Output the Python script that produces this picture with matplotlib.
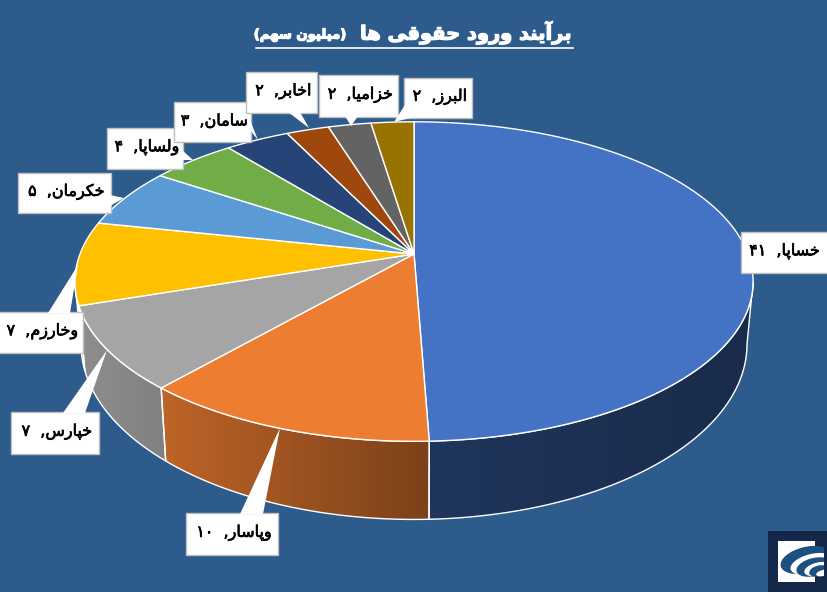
import unicodedata
import numpy as np
import matplotlib
matplotlib.use("Agg")
import matplotlib.pyplot as plt
import matplotlib.patheffects as pe
from matplotlib.patches import Polygon, Rectangle, Ellipse
from matplotlib.colors import to_rgb

names = ["خساپا", "وپاسار", "خپارس", "وخارزم", "خکرمان", "ولساپا", "سامان", "اخابر", "خزامیا", "البرز"]
values = [41, 10, 7, 7, 5, 4, 3, 2, 2, 2]
colors = ["#4472c4", "#ed7d31", "#a5a5a5", "#ffc000", "#5b9bd5", "#70ad47", "#264478", "#9e480e", "#636363", "#997300"]
title_main = "برآیند ورود حقوقی ها"
title_unit = "(میلیون سهم)"

BG = "#2c5b8c"
CX = 414
K = 0.1725
TOP = (254, 155, 334)     # apex y, depth scale, radius
BOTTOM = (314, 170, 328)

# box per label: left, top, right, bottom, then leader base and tip
boxes = [
    (741, 232, 830, 273, None),
    (186, 513, 278, 555, [(240, 514), (263, 514), (280, 428)]),
    (11, 412, 99, 454, [(63, 413), (85, 413), (107, 350)]),
    (-2, 312, 83, 353, [(48, 313), (70, 313), (78, 265)]),
    (18, 173, 111, 213, [(110, 195), (110, 206), (124, 198)]),
    (107, 128, 183, 169, [(182, 150), (182, 160), (193, 160)]),
    (174, 102, 251, 142, [(250, 120), (250, 130), (258, 140)]),
    (246, 72, 317, 113, [(288, 112), (300, 112), (309, 128)]),
    (319, 75, 398, 117, [(345, 116), (358, 116), (351, 126)]),
    (404, 78, 472, 118, [(405, 105), (415, 117), (394, 122)]),
]
# left / right brightness of the rim for each visible slice
rim_shade = {0: (0.47, 0.38), 1: (0.80, 0.52), 2: (0.86, 0.78), 3: (0.85, 0.8)}


def shape(text):
    # matplotlib does no arabic joining, so pick the forms by hand and reverse
    no_next = "اآدذرزو"
    out = []
    for i, ch in enumerate(text):
        if ch == " " or not unicodedata.name(ch).startswith("ARABIC LETTER"):
            out.append({"(": ")", ")": "("}.get(ch, ch))
            continue
        prev_joins = i > 0 and text[i - 1] not in no_next + " ()"
        next_joins = ch not in no_next and i < len(text) - 1 and text[i + 1] not in " ()"
        if prev_joins and next_joins:
            form = " MEDIAL FORM"
        elif prev_joins:
            form = " FINAL FORM"
        elif next_joins:
            form = " INITIAL FORM"
        else:
            form = " ISOLATED FORM"
        out.append(unicodedata.lookup(unicodedata.name(ch) + form))
    return "".join(reversed(out))


def fa_digits(n):
    return str(n).translate(str.maketrans("0123456789", "۰۱۲۳۴۵۶۷۸۹"))


def project(deg, plane):
    y0, depth, radius = plane
    t = np.radians(deg)
    u, v = np.sin(t), np.cos(t)
    d = 1 + K * v
    return np.column_stack([CX + radius * u / d, y0 - depth * v / d])


fig = plt.figure(figsize=(8.28, 5.92), dpi=100, facecolor=BG)
ax = fig.add_axes([0, 0, 1, 1])
ax.set_facecolor(BG)
ax.axis("off")

edges = np.concatenate([[0], np.cumsum(values)]) / sum(values) * 360
limit_r = np.degrees(np.arccos(-K))
limit_l = 360 - limit_r

# rim
for i, col in enumerate(colors):
    a = max(edges[i], limit_r)
    b = min(edges[i + 1], limit_l)
    if a >= b:
        continue
    ang = np.linspace(a, b, 80)
    pts = np.vstack([project(ang, TOP), project(ang[::-1], BOTTOM)])
    poly = Polygon(pts, closed=True, facecolor="none", edgecolor="none")
    ax.add_patch(poly)
    s_left, s_right = rim_shade[i]
    ramp = np.linspace(s_left, s_right, 64)[None, :, None] * np.array(to_rgb(col))[None, None, :]
    im = ax.imshow(ramp, extent=[pts[:, 0].min(), pts[:, 0].max(), pts[:, 1].max(), pts[:, 1].min()],
                   aspect="auto", zorder=1)
    im.set_clip_path(poly)
    ax.add_patch(Polygon(pts, closed=True, facecolor="none", edgecolor="white", linewidth=1.0, zorder=2))

# top face
for i, col in enumerate(colors):
    ang = np.linspace(edges[i], edges[i + 1], 120)
    pts = np.vstack([[CX, TOP[0]], project(ang, TOP)])
    ax.add_patch(Polygon(pts, closed=True, facecolor=col, edgecolor="white", linewidth=1.0, zorder=3))

# labels
heavy = [pe.withStroke(linewidth=0.5, foreground="black")]
for i, box in enumerate(boxes):
    x0, y0, x1, y1, leader = box
    ax.add_patch(Rectangle((x0, y0), x1 - x0, y1 - y0, facecolor="white", edgecolor="#bfbfbf", linewidth=1, zorder=5))
    if leader:
        ax.add_patch(Polygon(leader, closed=True, facecolor="white", edgecolor="none", zorder=6))
    label = fa_digits(values[i]) + "  ," + shape(names[i])
    ax.text((x0 + x1) / 2 + (2 if i != 0 else -1), (y0 + y1) / 2 - 1, label, ha="center", va="center",
            fontsize=11.5, color="black", family="DejaVu Sans", zorder=7, path_effects=heavy)

# title
bold_white = [pe.withStroke(linewidth=0.9, foreground="white")]
ax.text(573, 33, shape(title_main), ha="right", va="center", fontsize=14, fontweight="bold",
        color="white", family="DejaVu Sans", zorder=7, path_effects=bold_white)
ax.text(347, 35, shape(title_unit), ha="right", va="center", fontsize=9.5, fontweight="bold",
        color="white", family="DejaVu Sans", zorder=7, path_effects=bold_white)
ax.plot([256, 573], [48, 48], color="white", linewidth=1.2, zorder=7)

# logo
ax.add_patch(Rectangle((768, 531), 62, 63, facecolor="#14294a", edgecolor="none", zorder=8))
ax.add_patch(Rectangle((778, 541), 37, 41, facecolor="white", edgecolor="none", zorder=9))
clip = Rectangle((778, 541), 46, 42, transform=ax.transData)
for (ex, ey, ea, eb, ecol) in [(806, 560, 52, 26, "#1d4f80"), (812, 564, 44, 20, "white"),
                               (814, 567, 36, 18, "#1d4f80"), (818, 569, 28, 13, "white"),
                               (819, 571, 20, 11, "#1d4f80"), (823, 573, 14, 6, "white")]:
    e = Ellipse((ex, ey), ea, eb, angle=-14, facecolor=ecol, edgecolor="none", zorder=10)
    ax.add_patch(e)
    e.set_clip_path(clip)

ax.set_xlim(0, 828)
ax.set_ylim(592, 0)
fig.savefig("out.png", dpi=100, facecolor=BG)
